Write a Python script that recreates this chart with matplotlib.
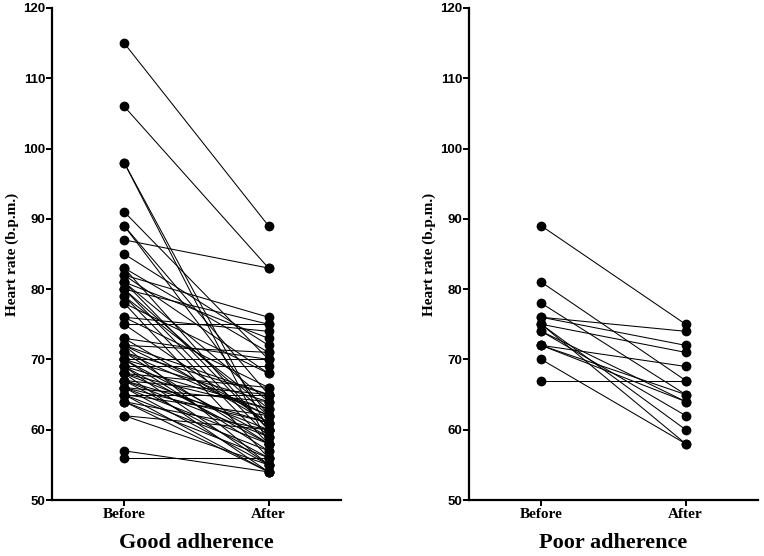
import matplotlib
matplotlib.use("Agg")
import matplotlib.pyplot as plt

# Good adherence: pares antes / despues (b.p.m.)
good_before = [115, 106, 98, 98, 91, 89, 89, 87, 85, 83, 83, 82, 82, 81, 81, 81,
               80, 80, 80, 79, 79, 78, 78, 76, 76, 75, 75, 73, 73, 72, 72, 72, 72,
               71, 71, 71, 70, 70, 70, 70, 69, 69, 69, 69, 68, 68, 68, 68, 67, 67,
               67, 67, 66, 66, 66, 66, 65, 65, 65, 65, 64, 64, 64, 62, 62, 57, 56]
good_after = [89, 83, 60, 58, 70, 65, 62, 83, 72, 71, 60, 68, 76, 64, 60, 73,
              75, 59, 62, 63, 58, 56, 68, 74, 66, 75, 61, 70, 61, 71, 62, 55, 65,
              65, 58, 62, 70, 57, 59, 64, 69, 63, 58, 55, 66, 60, 54, 63, 65, 59,
              56, 61, 64, 61, 55, 58, 65, 62, 57, 54, 60, 56, 54, 55, 60, 54, 56]

# Poor adherence
poor_before = [89, 81, 78, 76, 76, 75, 75, 75, 74, 74, 72, 72, 72, 70, 67]
poor_after = [75, 67, 65, 72, 74, 71, 58, 60, 64, 62, 69, 65, 64, 58, 67]

groups = ["Before", "After"]
titles = ["Good adherence", "Poor adherence"]
yticks = [50, 60, 70, 80, 90, 100, 110, 120]

serif = "Liberation Serif"
sans = "Liberation Sans"

fig = plt.figure(figsize=(7.64, 5.56), dpi=100)
ax1 = fig.add_axes([0.068, 0.1007, 0.378, 0.885])
ax2 = fig.add_axes([0.614, 0.1007, 0.378, 0.885])

for ax, before, after, title in [(ax1, good_before, good_after, titles[0]),
                                 (ax2, poor_before, poor_after, titles[1])]:
    for b, a in zip(before, after):
        ax.plot([0, 1], [b, a], color="black", lw=0.75, zorder=2)
    ax.plot([0] * len(before), before, "o", color="black", ms=6, zorder=3)
    ax.plot([1] * len(after), after, "o", color="black", ms=6, zorder=3)

    ax.set_xlim(-0.5, 1.5)
    ax.set_ylim(50, 120)
    ax.spines["top"].set_visible(False)
    ax.spines["right"].set_visible(False)
    ax.spines["left"].set_linewidth(1.6)
    ax.spines["bottom"].set_linewidth(1.6)
    ax.set_yticks(yticks)
    ax.set_yticklabels([str(t) for t in yticks], fontfamily=sans,
                       fontweight="bold", fontsize=9.5)
    ax.set_xticks([0, 1])
    ax.set_xticklabels(groups, fontfamily=serif, fontweight="bold", fontsize=11)
    ax.tick_params(axis="y", length=4, width=1.4, pad=1)
    ax.tick_params(axis="x", length=4, width=1.4, pad=2)
    ax.set_ylabel("Heart rate (b.p.m.)", fontfamily=serif, fontweight="bold",
                  fontsize=11, labelpad=3)
    ax.text(0.5, -0.087, title, transform=ax.transAxes, ha="center", va="center",
            fontfamily=serif, fontweight="bold", fontsize=16)

fig.savefig("out.png", dpi=100)
